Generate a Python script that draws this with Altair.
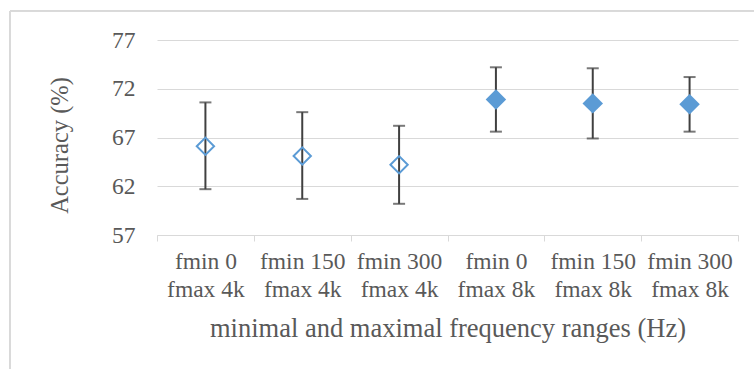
import altair as alt
import pandas as pd

categories = ["fmin 0\nfmax 4k", "fmin 150\nfmax 4k", "fmin 300\nfmax 4k",
              "fmin 0\nfmax 8k", "fmin 150\nfmax 8k", "fmin 300\nfmax 8k"]
accuracy = [66.1, 65.1, 64.2, 70.9, 70.5, 70.4]
err_low = [61.7, 60.7, 60.2, 67.6, 66.9, 67.6]
err_high = [70.6, 69.6, 68.2, 74.2, 74.1, 73.2]
filled = [False, False, False, True, True, True]
y_ticks = [57, 62, 67, 72, 77]

df = pd.DataFrame({"cat": categories, "acc": accuracy, "lo": err_low,
                   "hi": err_high, "filled": filled})

BLUE = "#5b9bd5"
GRID = "#d9d9d9"
TEXT = "#595959"
ERR = "#404040"
FONT = "Liberation Serif"

x_scale = alt.Scale(domain=categories, paddingInner=0, paddingOuter=0)
y_scale = alt.Scale(domain=[57, 77], nice=False, zero=False)

x_enc = alt.X("cat:N", sort=categories, scale=x_scale,
              title="minimal and maximal frequency ranges (Hz)",
              axis=alt.Axis(labelExpr="split(datum.label, '\\n')", tickBand="extent"))


def y_enc(field):
    return alt.Y(field, scale=y_scale, title="Accuracy (%)", axis=alt.Axis(values=y_ticks))


base = alt.Chart(df)

bars = base.mark_rule(color=ERR, strokeWidth=2).encode(
    x=x_enc, y=y_enc("lo:Q"), y2="hi:Q")
caps_lo = base.mark_tick(color=ERR, thickness=2, size=12, orient="horizontal").encode(
    x=x_enc, y=y_enc("lo:Q"))
caps_hi = base.mark_tick(color=ERR, thickness=2, size=12, orient="horizontal").encode(
    x=x_enc, y=y_enc("hi:Q"))

hollow = base.transform_filter("!datum.filled").mark_point(
    shape="diamond", size=300, filled=False, stroke=BLUE, strokeWidth=2, opacity=1
).encode(x=x_enc, y=y_enc("acc:Q"))
solid = base.transform_filter("datum.filled").mark_point(
    shape="diamond", size=420, filled=True, fill=BLUE, opacity=1
).encode(x=x_enc, y=y_enc("acc:Q"))

frame_left = alt.Chart(df).mark_rule(color=GRID, strokeWidth=1).encode(
    x=alt.value(-147), y=alt.value(-29), y2=alt.value(340))
frame_top = alt.Chart(df).mark_rule(color=GRID, strokeWidth=1).encode(
    x=alt.value(-147), x2=alt.value(610), y=alt.value(-29))

chart = alt.layer(frame_left, frame_top, bars, caps_lo, caps_hi, hollow, solid).properties(
    width=581, height=195,
    background="white",
    padding={"left": 157, "top": 40, "right": 16, "bottom": 134},
    autosize=alt.AutoSizeParams(type="none"),
).configure_view(stroke=None).configure_axis(
    labelFont=FONT, titleFont=FONT, labelColor=TEXT, titleColor=TEXT,
    labelFontSize=23.5, titleFontSize=26.5, titleFontWeight="normal"
).configure_axisX(
    labelAngle=0, labelLineHeight=28.5, labelPadding=8, labelBaseline="top",
    ticks=True, tickSize=6, tickColor=GRID, domainColor=GRID, grid=False,
    titleY=93, titleBaseline="middle", titleAlign="center"
).configure_axisY(
    grid=True, gridColor=GRID, domain=False, ticks=False, labelPadding=22,
    titleX=-97, titleY=105, titleBaseline="middle", titleAngle=270,
    titleAlign="center", titleFontSize=24.5
)

chart.save("out.html", embed_options={"renderer": "svg", "actions": False})
